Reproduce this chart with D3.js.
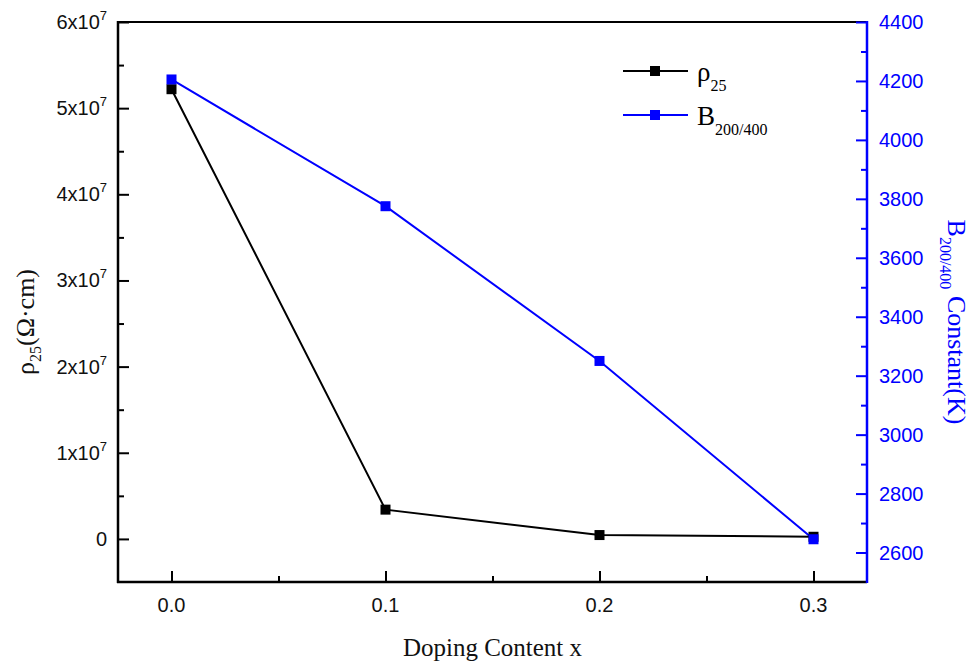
<!DOCTYPE html>
<html>
<head>
<meta charset="utf-8">
<script src="https://cdn.jsdelivr.net/npm/d3@7"></script>
<style>
  body { margin: 0; background: #fff; }
  svg { display: block; }
</style>
</head>
<body>
<svg id="chart" width="979" height="663"></svg>
<script>
// Doping content (x) and the two measured series
const doping = [0.0, 0.1, 0.2, 0.3];
const rho25 = [5.22e7, 3.4e6, 4.5e5, 2.5e5];          // resistivity at 25 °C, Ω·cm
const bConst = [4205, 3775, 3250, 2645];              // B200/400 constant, K

const xTicks = [0.0, 0.1, 0.2, 0.3];
const xMinor = [0.05, 0.15, 0.25];
const leftTicks = [0, 1e7, 2e7, 3e7, 4e7, 5e7, 6e7];
const leftMinor = [0.5e7, 1.5e7, 2.5e7, 3.5e7, 4.5e7, 5.5e7];
const rightTicks = [2600, 2800, 3000, 3200, 3400, 3600, 3800, 4000, 4200, 4400];
const rightMinor = [2700, 2900, 3100, 3300, 3500, 3700, 3900, 4100, 4300];

const BLUE = "#0000ff";
const svg = d3.select("#chart");
const plot = { left: 118, right: 867, top: 22, bottom: 582 };

const x = d3.scaleLinear().domain([-0.025, 0.325]).range([plot.left, plot.right]);
const yL = d3.scaleLinear().domain([-0.5e7, 6e7]).range([plot.bottom, plot.top]);
const yR = d3.scaleLinear().domain([2500, 4400]).range([plot.bottom, plot.top]);

const sansFont = "'Liberation Sans', Arial, sans-serif";
const serifFont = "'Liberation Serif', 'Times New Roman', serif";
const TICK_FS = 20;

// frame: top border
svg.append("line")
  .attr("x1", plot.left).attr("x2", plot.right)
  .attr("y1", plot.top).attr("y2", plot.top)
  .attr("stroke", "#000").attr("stroke-width", 2);

// bottom axis, ticks pointing inward
const gx = svg.append("g").attr("transform", `translate(0,${plot.bottom})`);
gx.append("g").call(d3.axisTop(x).tickValues(xMinor).tickSize(6).tickFormat(""));
gx.append("g").call(d3.axisTop(x).tickValues(xTicks).tickSize(11).tickFormat(""));
gx.selectAll("path.domain").remove();
gx.selectAll("line").attr("stroke", "#000").attr("stroke-width", 2);
gx.append("line").attr("x1", plot.left - 1).attr("x2", plot.right)
  .attr("stroke", "#000").attr("stroke-width", 2.5);
gx.selectAll("text.xl").data(xTicks).enter().append("text")
  .attr("class", "xl")
  .attr("x", d => x(d)).attr("y", 30)
  .attr("text-anchor", "middle")
  .attr("font-family", sansFont).attr("font-size", TICK_FS)
  .attr("fill", "#111")
  .text(d => d3.format(".1f")(d));

// left axis
const gl = svg.append("g").attr("transform", `translate(${plot.left},0)`);
gl.append("g").call(d3.axisRight(yL).tickValues(leftMinor).tickSize(6).tickFormat(""));
gl.append("g").call(d3.axisRight(yL).tickValues(leftTicks).tickSize(11).tickFormat(""));
gl.selectAll("path.domain").remove();
gl.selectAll("line").attr("stroke", "#000").attr("stroke-width", 2);
gl.append("line").attr("y1", plot.top - 1).attr("y2", plot.bottom + 1)
  .attr("stroke", "#000").attr("stroke-width", 2.5);
const ll = gl.selectAll("text.yl").data(leftTicks).enter().append("text")
  .attr("class", "yl")
  .attr("x", -11).attr("y", d => yL(d) + 7)
  .attr("text-anchor", "end")
  .attr("font-family", sansFont).attr("font-size", TICK_FS)
  .attr("fill", "#111");
ll.each(function(d) {
  const t = d3.select(this);
  if (d === 0) { t.text("0"); return; }
  t.append("tspan").text(`${d / 1e7}x10`);
  t.append("tspan").attr("dy", -9).attr("font-size", 13).text("7");
});

// right axis in blue
const gr = svg.append("g").attr("transform", `translate(${plot.right},0)`);
gr.append("g").call(d3.axisLeft(yR).tickValues(rightMinor).tickSize(6).tickFormat(""));
gr.append("g").call(d3.axisLeft(yR).tickValues(rightTicks).tickSize(11).tickFormat(""));
gr.selectAll("path.domain").remove();
gr.selectAll("line").attr("stroke", BLUE).attr("stroke-width", 2);
gr.append("line").attr("y1", plot.top - 1).attr("y2", plot.bottom + 1)
  .attr("stroke", BLUE).attr("stroke-width", 2.5);
gr.selectAll("text.yr").data(rightTicks).enter().append("text")
  .attr("class", "yr")
  .attr("x", 12).attr("y", d => yR(d) + 7)
  .attr("font-family", sansFont).attr("font-size", TICK_FS)
  .attr("fill", BLUE)
  .text(d => d);

// series
const rhoPts = doping.map((d, i) => [d, rho25[i]]);
const bPts = doping.map((d, i) => [d, bConst[i]]);

svg.append("path").datum(bPts)
  .attr("d", d3.line().x(d => x(d[0])).y(d => yR(d[1])))
  .attr("fill", "none").attr("stroke", BLUE).attr("stroke-width", 2);
svg.append("path").datum(rhoPts)
  .attr("d", d3.line().x(d => x(d[0])).y(d => yL(d[1])))
  .attr("fill", "none").attr("stroke", "#000").attr("stroke-width", 2);

const MS = 10;
svg.selectAll("rect.rho").data(rhoPts).enter().append("rect")
  .attr("class", "rho")
  .attr("x", d => x(d[0]) - MS / 2).attr("y", d => yL(d[1]) - MS / 2)
  .attr("width", MS).attr("height", MS).attr("fill", "#000");
svg.selectAll("rect.b").data(bPts).enter().append("rect")
  .attr("class", "b")
  .attr("x", d => x(d[0]) - MS / 2).attr("y", d => yR(d[1]) - MS / 2)
  .attr("width", MS).attr("height", MS).attr("fill", BLUE);

// legend
const legend = [
  { color: "#000", main: "ρ", sub: "25", y: 71 },
  { color: BLUE, main: "B", sub: "200/400", y: 115 }
];
const lg = svg.append("g");
legend.forEach(item => {
  lg.append("line").attr("x1", 623).attr("x2", 688)
    .attr("y1", item.y).attr("y2", item.y)
    .attr("stroke", item.color).attr("stroke-width", 2);
  lg.append("rect").attr("x", 655 - MS / 2).attr("y", item.y - MS / 2)
    .attr("width", MS).attr("height", MS).attr("fill", item.color);
  const t = lg.append("text").attr("x", 697).attr("y", item.y + 10)
    .attr("font-family", serifFont).attr("font-size", 27).attr("fill", "#000");
  t.append("tspan").text(item.main);
  t.append("tspan").attr("dy", 10).attr("font-size", 16).text(item.sub);
});

// axis titles
svg.append("text")
  .attr("x", (plot.left + plot.right) / 2).attr("y", 656)
  .attr("text-anchor", "middle")
  .attr("font-family", serifFont).attr("font-size", 25).attr("fill", "#111")
  .text("Doping Content x");

const lt = svg.append("text")
  .attr("transform", "translate(34,322) rotate(-90)")
  .attr("text-anchor", "middle")
  .attr("font-family", serifFont).attr("font-size", 26).attr("fill", "#111");
lt.append("tspan").text("ρ");
lt.append("tspan").attr("dy", 7).attr("font-size", 16).text("25");
lt.append("tspan").attr("dy", -7).text("(Ω·cm)");

const rt = svg.append("text")
  .attr("transform", "translate(948,322) rotate(90)")
  .attr("text-anchor", "middle")
  .attr("font-family", serifFont).attr("font-size", 26).attr("fill", BLUE);
rt.append("tspan").text("B");
rt.append("tspan").attr("dy", 8).attr("font-size", 16).text("200/400");
rt.append("tspan").attr("dy", -8).text(" Constant(K)");
</script>
</body>
</html>
